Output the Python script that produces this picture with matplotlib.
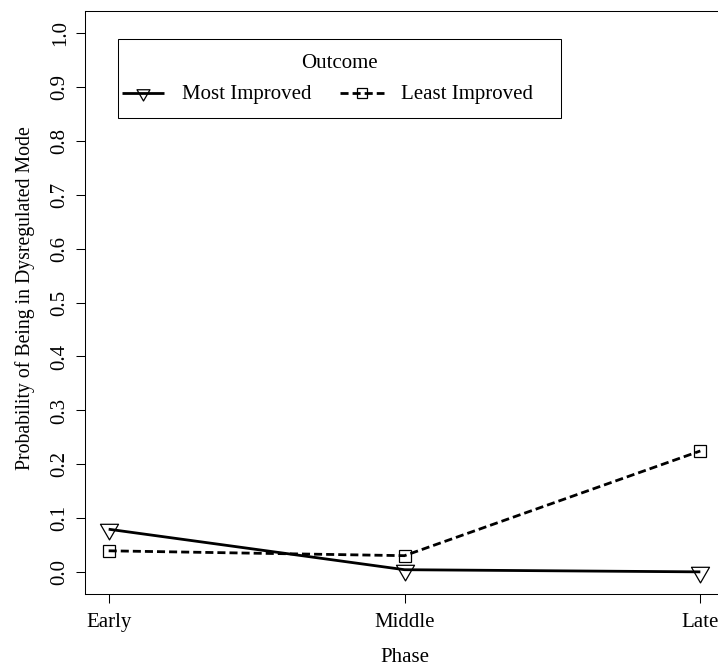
import matplotlib
matplotlib.use("Agg")
import matplotlib.pyplot as plt
import matplotlib.transforms as mtransforms
from matplotlib.path import Path
from matplotlib.lines import Line2D
from matplotlib.patches import Rectangle

# ---- data -------------------------------------------------------------
phases = ["Early", "Middle", "Late"]
most_improved = [0.08, 0.005, 0.001]
least_improved = [0.04, 0.031, 0.225]
y_ticks = [0.0, 0.1, 0.2, 0.3, 0.4, 0.5, 0.6, 0.7, 0.8, 0.9, 1.0]
y_tick_labels = ["0.0", "0.1", "0.2", "0.3", "0.4", "0.5",
                 "0.6", "0.7", "0.8", "0.9", "1.0"]
series_names = ["Most Improved", "Least Improved"]
legend_title = "Outcome"
x_title = "Phase"
y_title = "Probability of Being in Dysregulated Mode"

# ---- style ------------------------------------------------------------
plt.rcParams["font.family"] = ["Liberation Serif", "DejaVu Serif"]
FS = 15.0
FS_YLAB = 14.2

W, H = 718, 666
fig = plt.figure(figsize=(W / 100, H / 100), dpi=100)
fig.patch.set_facecolor("white")
# pixel coordinates measured from the top-left corner of the figure
px = mtransforms.Affine2D().scale(1 / W, -1 / H).translate(0, 1) + fig.transFigure

ax = fig.add_axes([85 / W, (H - 594) / H, (724 - 85) / W, (594 - 11) / H])

# downward-pointing equilateral triangle centred on its centroid
tri_down = Path([(-1, 0.5774), (1, 0.5774), (0, -1.1547), (-1, 0.5774)],
                [Path.MOVETO, Path.LINETO, Path.LINETO, Path.CLOSEPOLY])

solid_kw = dict(color="black", lw=2.0, solid_capstyle="butt")
dash_kw = dict(color="black", lw=2.0, linestyle=(0, (2.9, 1.45)),
               dash_capstyle="butt")
tri_kw = dict(marker=tri_down, mfc="none", mec="black", mew=0.9)
sq_kw = dict(marker="s", mfc="none", mec="black", mew=0.9)

x = list(range(1, len(phases) + 1))
ax.plot(x, most_improved, ms=15, **solid_kw, **tri_kw)
ax.plot(x, least_improved, ms=8.6, **dash_kw, **sq_kw)

ax.set_xlim(0.92, 3.08)
ax.set_ylim(-0.04, 1.04)
ax.set_xticks(x, phases)
ax.set_yticks(y_ticks, y_tick_labels, rotation=90, va="center")
ax.tick_params(axis="both", direction="out", length=6.5, width=0.75,
               labelsize=FS, color="black")
ax.tick_params(axis="y", pad=4.5)
ax.tick_params(axis="x", pad=7.4)
for s in ax.spines.values():
    s.set_linewidth(0.75)
    s.set_color("black")

ax.set_xlabel(x_title, fontsize=FS)
ax.xaxis.set_label_coords(404.5, 648, transform=px)
ax.set_ylabel(y_title, fontsize=FS_YLAB)
ax.yaxis.set_label_coords(35, 298, transform=px)

# ---- legend box -------------------------------------------------------
fig.add_artist(Rectangle((118, 39), 443, 79, transform=px, fill=False,
                         lw=0.75, ec="black"))
fig.text(339.5, 68, legend_title, transform=px, ha="center", va="baseline",
         fontsize=FS)
fig.add_artist(Line2D([122, 164], [93, 93], transform=px, **solid_kw))
fig.add_artist(Line2D([143], [93], transform=px, ms=10.8, linestyle="none",
                      **tri_kw))
fig.text(182, 99, series_names[0], transform=px, ha="left", va="baseline",
         fontsize=FS)
fig.add_artist(Line2D([340, 384], [93, 93], transform=px, **dash_kw))
fig.add_artist(Line2D([362], [93], transform=px, ms=7.2, linestyle="none",
                      **sq_kw))
fig.text(400.6, 99, series_names[1], transform=px, ha="left", va="baseline",
         fontsize=FS)

fig.savefig("out.png", dpi=100)
